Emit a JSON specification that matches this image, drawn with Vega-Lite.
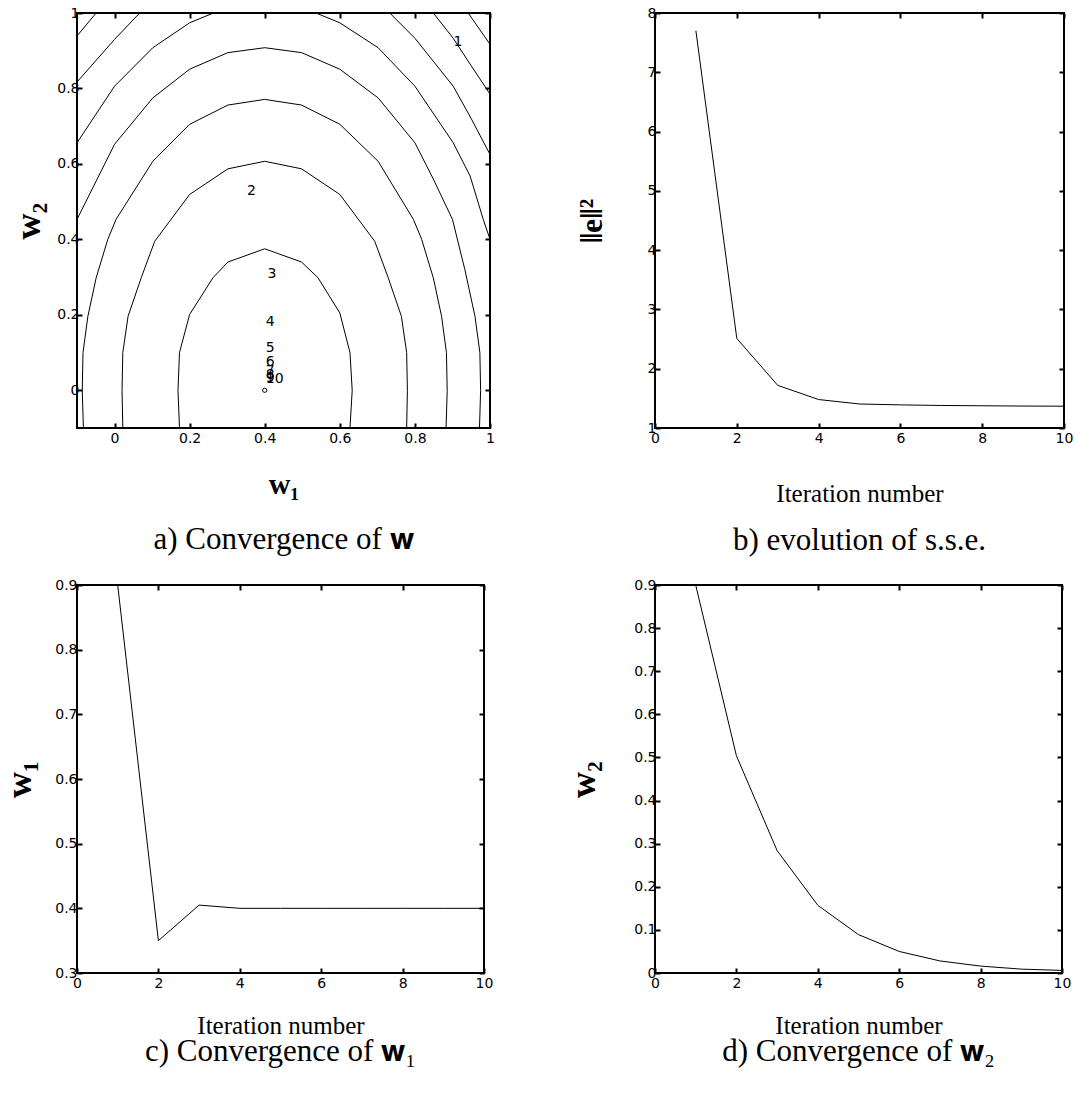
{
  "$schema": "https://vega.github.io/schema/vega-lite/v6.json",
  "background": "white",
  "padding": {"left": 0, "top": 5, "right": 0, "bottom": 5},
  "config": {
    "font": "Liberation Serif",
    "view": {"stroke": "black", "strokeWidth": 2},
    "axis": {
      "domain": false, "grid": false, "ticks": true, "tickSize": -5, "tickWidth": 2, "tickColor": "black",
      "labelFont": "DejaVu Sans", "labelFontSize": 14, "labelColor": "black", "labelPadding": 4,
      "labelFlush": false, "labelOverlap": false,
      "titleFont": "Liberation Serif", "titleColor": "black", "titleFontWeight": "normal"
    },
    "title": {"font": "Liberation Serif, DejaVu Serif", "fontSize": 31, "fontWeight": "normal", "color": "black", "orient": "bottom", "anchor": "middle", "frame": "group"}
  },
  "datasets": {
    "contours": [
      {"c":1,"i":0,"x":0.173,"y":-0.1},{"c":1,"i":1,"x":0.169,"y":0.0},{"c":1,"i":2,"x":0.173,"y":0.1},{"c":1,"i":3,"x":0.2,"y":0.201},{"c":1,"i":4,"x":0.262,"y":0.298},{"c":1,"i":5,"x":0.302,"y":0.34},{"c":1,"i":6,"x":0.4,"y":0.375},{"c":1,"i":7,"x":0.498,"y":0.34},{"c":1,"i":8,"x":0.542,"y":0.298},{"c":1,"i":9,"x":0.6,"y":0.205},{"c":1,"i":10,"x":0.627,"y":0.1},{"c":1,"i":11,"x":0.633,"y":0.0},{"c":1,"i":12,"x":0.627,"y":-0.1},
      {"c":2,"i":0,"x":0.022,"y":-0.1},{"c":2,"i":1,"x":0.02,"y":0.0},{"c":2,"i":2,"x":0.022,"y":0.1},{"c":2,"i":3,"x":0.036,"y":0.196},{"c":2,"i":4,"x":0.071,"y":0.298},{"c":2,"i":5,"x":0.107,"y":0.395},{"c":2,"i":6,"x":0.2,"y":0.519},{"c":2,"i":7,"x":0.302,"y":0.587},{"c":2,"i":8,"x":0.4,"y":0.607},{"c":2,"i":9,"x":0.498,"y":0.587},{"c":2,"i":10,"x":0.6,"y":0.519},{"c":2,"i":11,"x":0.693,"y":0.395},{"c":2,"i":12,"x":0.729,"y":0.298},{"c":2,"i":13,"x":0.764,"y":0.196},{"c":2,"i":14,"x":0.778,"y":0.1},{"c":2,"i":15,"x":0.78,"y":0.0},{"c":2,"i":16,"x":0.778,"y":-0.1},
      {"c":3,"i":0,"x":-0.083,"y":-0.1},{"c":3,"i":1,"x":-0.086,"y":0.0},{"c":3,"i":2,"x":-0.084,"y":0.1},{"c":3,"i":3,"x":-0.071,"y":0.196},{"c":3,"i":4,"x":-0.049,"y":0.298},{"c":3,"i":5,"x":-0.018,"y":0.4},{"c":3,"i":6,"x":0.004,"y":0.453},{"c":3,"i":7,"x":0.102,"y":0.607},{"c":3,"i":8,"x":0.2,"y":0.705},{"c":3,"i":9,"x":0.302,"y":0.756},{"c":3,"i":10,"x":0.4,"y":0.771},{"c":3,"i":11,"x":0.498,"y":0.756},{"c":3,"i":12,"x":0.6,"y":0.705},{"c":3,"i":13,"x":0.702,"y":0.607},{"c":3,"i":14,"x":0.796,"y":0.453},{"c":3,"i":15,"x":0.818,"y":0.4},{"c":3,"i":16,"x":0.849,"y":0.298},{"c":3,"i":17,"x":0.871,"y":0.196},{"c":3,"i":18,"x":0.884,"y":0.1},{"c":3,"i":19,"x":0.886,"y":0.0},{"c":3,"i":20,"x":0.883,"y":-0.1},
      {"c":4,"i":0,"x":-0.1,"y":0.453},{"c":4,"i":1,"x":0.0,"y":0.652},{"c":4,"i":2,"x":0.102,"y":0.775},{"c":4,"i":3,"x":0.2,"y":0.851},{"c":4,"i":4,"x":0.302,"y":0.895},{"c":4,"i":5,"x":0.4,"y":0.908},{"c":4,"i":6,"x":0.498,"y":0.895},{"c":4,"i":7,"x":0.6,"y":0.851},{"c":4,"i":8,"x":0.702,"y":0.775},{"c":4,"i":9,"x":0.8,"y":0.656},{"c":4,"i":10,"x":0.849,"y":0.56},{"c":4,"i":11,"x":0.9,"y":0.453},{"c":4,"i":12,"x":0.933,"y":0.32},{"c":4,"i":13,"x":0.96,"y":0.196},{"c":4,"i":14,"x":0.973,"y":0.1},{"c":4,"i":15,"x":0.975,"y":0.0},{"c":4,"i":16,"x":0.972,"y":-0.1},
      {"c":5,"i":0,"x":-0.1,"y":0.656},{"c":5,"i":1,"x":0.0,"y":0.806},{"c":5,"i":2,"x":0.102,"y":0.908},{"c":5,"i":3,"x":0.2,"y":0.974},{"c":5,"i":4,"x":0.3,"y":1.015},{"c":5,"i":5,"x":0.4,"y":1.03},{"c":5,"i":6,"x":0.5,"y":1.015},{"c":5,"i":7,"x":0.6,"y":0.974},{"c":5,"i":8,"x":0.702,"y":0.908},{"c":5,"i":9,"x":0.8,"y":0.806},{"c":5,"i":10,"x":0.902,"y":0.656},{"c":5,"i":11,"x":0.947,"y":0.568},{"c":5,"i":12,"x":0.982,"y":0.453},{"c":5,"i":13,"x":1.0,"y":0.4},
      {"c":6,"i":0,"x":-0.1,"y":0.817},{"c":6,"i":1,"x":0.0,"y":0.93},{"c":6,"i":2,"x":0.067,"y":1.0},{"c":6,"i":3,"x":0.15,"y":1.06},{"c":6,"i":4,"x":0.65,"y":1.06},{"c":6,"i":5,"x":0.733,"y":1.0},{"c":6,"i":6,"x":0.8,"y":0.933},{"c":6,"i":7,"x":0.902,"y":0.806},{"c":6,"i":8,"x":0.95,"y":0.72},{"c":6,"i":9,"x":1.0,"y":0.625},
      {"c":7,"i":0,"x":-0.1,"y":0.939},{"c":7,"i":1,"x":-0.049,"y":1.0},{"c":7,"i":2,"x":-0.02,"y":1.035},{"c":7,"i":3,"x":0.82,"y":1.035},{"c":7,"i":4,"x":0.849,"y":1.0},{"c":7,"i":5,"x":0.902,"y":0.933},{"c":7,"i":6,"x":0.95,"y":0.86},{"c":7,"i":7,"x":1.0,"y":0.785},
      {"c":8,"i":0,"x":0.942,"y":1.0},{"c":8,"i":1,"x":1.0,"y":0.917}
    ],
    "iters": [
      {"k":1,"w1":0.9,"w2":0.9,"e2":7.7},
      {"k":2,"w1":0.35,"w2":0.504,"e2":2.51},
      {"k":3,"w1":0.405,"w2":0.284,"e2":1.72},
      {"k":4,"w1":0.4,"w2":0.157,"e2":1.48},
      {"k":5,"w1":0.4,"w2":0.089,"e2":1.405},
      {"k":6,"w1":0.4,"w2":0.05,"e2":1.39},
      {"k":7,"w1":0.4,"w2":0.028,"e2":1.38},
      {"k":8,"w1":0.4,"w2":0.016,"e2":1.375},
      {"k":9,"w1":0.4,"w2":0.009,"e2":1.37},
      {"k":10,"w1":0.4,"w2":0.006,"e2":1.368}
    ],
    "optimum": [{"w1":0.4,"w2":0.0}]
  },
  "columns": 2,
  "spacing": {"row": 157, "column": 165},
  "bounds": "flush",
  "align": "all",
  "concat": [
    {
      "width": 413, "height": 415,
      "title": {"text": "a) Convergence of 𝐰", "offset": 26},
      "resolve": {"axis": {"x": "independent", "y": "independent"}},
      "layer": [
        {
          "data": {"name": "contours"},
          "mark": {"type": "line", "clip": true, "color": "black", "strokeWidth": 1},
          "encoding": {
            "x": {"field": "x", "type": "quantitative", "scale": {"domain": [-0.1, 1], "nice": false, "zero": false},
                  "axis": {"values": [0, 0.2, 0.4, 0.6, 0.8, 1], "format": "~g", "labelFontSize": 14, "labelPadding": 8, "title": "w₁", "titleFontWeight": "bold", "titleFontSize": 30, "titlePadding": 24}},
            "y": {"field": "y", "type": "quantitative", "scale": {"domain": [-0.1, 1], "nice": false, "zero": false},
                  "axis": {"values": [0, 0.2, 0.4, 0.6, 0.8, 1], "format": "~g", "labelFontSize": 14, "labelPadding": 3, "title": "w₂", "titleFontWeight": "bold", "titleFontSize": 36, "titlePadding": 9}},
            "detail": {"field": "c", "type": "nominal"},
            "order": {"field": "i", "type": "quantitative"}
          }
        },
        {
          "data": {"name": "iters"},
          "mark": {"type": "text", "align": "left", "baseline": "middle", "dx": 1, "dy": -9, "font": "DejaVu Sans", "fontSize": 14, "color": "black"},
          "encoding": {
            "x": {"field": "w1", "type": "quantitative", "axis": {"orient": "top", "labels": false, "title": null, "values": [0, 0.2, 0.4, 0.6, 0.8, 1]}},
            "y": {"field": "w2", "type": "quantitative", "axis": {"orient": "right", "labels": false, "title": null, "values": [0, 0.2, 0.4, 0.6, 0.8, 1]}},
            "text": {"field": "k", "type": "quantitative", "format": "d"}
          }
        },
        {
          "data": {"name": "optimum"},
          "mark": {"type": "point", "shape": "circle", "filled": false, "size": 18, "color": "black", "strokeWidth": 1, "opacity": 1},
          "encoding": {
            "x": {"field": "w1", "type": "quantitative", "axis": null},
            "y": {"field": "w2", "type": "quantitative", "axis": null}
          }
        }
      ]
    },
    {
      "width": 409, "height": 415,
      "title": {"text": "b) evolution of s.s.e.", "offset": 20},
      "data": {"name": "iters"},
      "resolve": {"axis": {"x": "independent", "y": "independent"}},
      "layer": [
        {
          "mark": {"type": "line", "clip": true, "color": "black", "strokeWidth": 1},
          "encoding": {
            "x": {"field": "k", "type": "quantitative", "scale": {"domain": [0, 10], "nice": false},
                  "axis": {"values": [0, 2, 4, 6, 8, 10], "labelFontSize": 14, "labelPadding": 8, "title": "Iteration number", "titleFontSize": 25, "titlePadding": 36}},
            "y": {"field": "e2", "type": "quantitative", "scale": {"domain": [1, 8], "nice": false, "zero": false},
                  "axis": {"values": [1, 2, 3, 4, 5, 6, 7, 8], "labelFontSize": 14, "labelPadding": 4, "title": "‖e‖²", "titleFontWeight": "bold", "titleFontSize": 32, "titlePadding": 39}}
          }
        },
        {
          "mark": {"type": "point", "opacity": 0, "size": 1},
          "encoding": {
            "x": {"field": "k", "type": "quantitative", "axis": {"orient": "top", "labels": false, "title": null, "values": [0, 2, 4, 6, 8, 10]}},
            "y": {"field": "e2", "type": "quantitative", "axis": {"orient": "right", "labels": false, "title": null, "values": [1, 2, 3, 4, 5, 6, 7, 8]}}
          }
        }
      ]
    },
    {
      "width": 407, "height": 388,
      "title": {"text": "c) Convergence of 𝐰₁", "offset": -1},
      "data": {"name": "iters"},
      "resolve": {"axis": {"x": "independent", "y": "independent"}},
      "layer": [
        {
          "mark": {"type": "line", "clip": true, "color": "black", "strokeWidth": 1},
          "encoding": {
            "x": {"field": "k", "type": "quantitative", "scale": {"domain": [0, 10], "nice": false},
                  "axis": {"values": [0, 2, 4, 6, 8, 10], "labelFontSize": 14, "labelPadding": 8, "title": "Iteration number", "titleFontSize": 25, "titlePadding": 23}},
            "y": {"field": "w1", "type": "quantitative", "scale": {"domain": [0.3, 0.9], "nice": false, "zero": false},
                  "axis": {"values": [0.3, 0.4, 0.5, 0.6, 0.7, 0.8, 0.9], "format": "~g", "labelFontSize": 14, "labelPadding": 5, "title": "w₁", "titleFontWeight": "bold", "titleFontSize": 36, "titlePadding": 16}}
          }
        },
        {
          "mark": {"type": "point", "opacity": 0, "size": 1},
          "encoding": {
            "x": {"field": "k", "type": "quantitative", "axis": {"orient": "top", "labels": false, "title": null, "values": [0, 2, 4, 6, 8, 10]}},
            "y": {"field": "w1", "type": "quantitative", "axis": {"orient": "right", "labels": false, "title": null, "values": [0.3, 0.4, 0.5, 0.6, 0.7, 0.8, 0.9]}}
          }
        }
      ]
    },
    {
      "width": 407, "height": 388,
      "title": {"text": "d) Convergence of 𝐰₂", "offset": -1},
      "data": {"name": "iters"},
      "resolve": {"axis": {"x": "independent", "y": "independent"}},
      "layer": [
        {
          "mark": {"type": "line", "clip": true, "color": "black", "strokeWidth": 1},
          "encoding": {
            "x": {"field": "k", "type": "quantitative", "scale": {"domain": [0, 10], "nice": false},
                  "axis": {"values": [0, 2, 4, 6, 8, 10], "labelFontSize": 14, "labelPadding": 8, "title": "Iteration number", "titleFontSize": 25, "titlePadding": 23}},
            "y": {"field": "w2", "type": "quantitative", "scale": {"domain": [0, 0.9], "nice": false, "zero": false},
                  "axis": {"values": [0, 0.1, 0.2, 0.3, 0.4, 0.5, 0.6, 0.7, 0.8, 0.9], "format": "~g", "labelFontSize": 14, "labelPadding": 4, "title": "w₂", "titleFontWeight": "bold", "titleFontSize": 36, "titlePadding": 31}}
          }
        },
        {
          "mark": {"type": "point", "opacity": 0, "size": 1},
          "encoding": {
            "x": {"field": "k", "type": "quantitative", "axis": {"orient": "top", "labels": false, "title": null, "values": [0, 2, 4, 6, 8, 10]}},
            "y": {"field": "w2", "type": "quantitative", "axis": {"orient": "right", "labels": false, "title": null, "values": [0, 0.1, 0.2, 0.3, 0.4, 0.5, 0.6, 0.7, 0.8, 0.9]}}
          }
        }
      ]
    }
  ]
}
